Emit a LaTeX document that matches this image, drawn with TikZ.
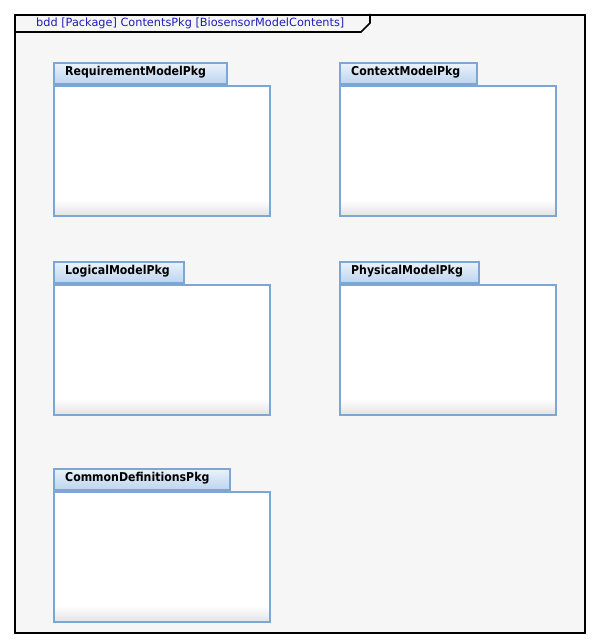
\documentclass[tikz,border=0pt]{standalone}
\usepackage{fontspec}
\setmainfont{DejaVu Sans}
\newfontfamily\pkgfont{DejaVu Sans Condensed}
\usetikzlibrary{positioning}
\definecolor{bgcol}{HTML}{F6F6F6}
\definecolor{pkgborder}{HTML}{7EA6D3}
\definecolor{tabtop}{HTML}{EAF2FB}
\definecolor{tabbot}{HTML}{BCD4EF}
\definecolor{bodybot}{HTML}{E2E2E2}
\definecolor{titleblue}{HTML}{1E1EB4}
\tikzset{
  frameline/.style={draw=black, line width=2pt},
  pkgbody/.style={draw=pkgborder, line width=2pt, minimum width=216pt, minimum height=130pt, anchor=north west, inner sep=0pt,
    path picture={
      \fill[white] (path picture bounding box.north west) rectangle (path picture bounding box.south east);
      \shade[top color=white, bottom color=bodybot]
        ([yshift=16pt]path picture bounding box.south west) rectangle (path picture bounding box.south east);
    }},
  pkgtab/.style={draw=pkgborder, line width=2pt, top color=tabtop, bottom color=tabbot, minimum height=21pt, anchor=south west, inner sep=0pt},
  pkglabel/.style={anchor=west, inner sep=0pt, font=\pkgfont\bfseries\fontsize{12.2}{14}\selectfont, text=black},
  titletext/.style={font=\fontsize{11.3}{13}\selectfont, text=titleblue, anchor=base west, inner sep=0pt}
}
\newcommand{\pkgbox}[5]{%
  \node[pkgbody] (#1) at (#2,#3) {};
  \node[pkgtab, minimum width=#4] (#1tab) at (#1.north west) {};
  \node[pkglabel] (#1lbl) at ([xshift=12pt,yshift=1pt]#1tab.west) {#5};
}
\begin{document}
\begin{tikzpicture}[x=1pt,y=-1pt]
\useasboundingbox (0,0) rectangle (596,644);
\fill[white] (0,0) rectangle (596,644);
\node[frameline, fill=bgcol, anchor=north west, minimum width=570pt, minimum height=618pt, inner sep=0pt] (frame) at (14,14) {};
\coordinate (hA) at (14,32);
\coordinate (hB) at (361,32);
\coordinate (hC) at (370,23);
\coordinate (hD) at (370,14);
\draw[line width=1.6pt, line join=miter] (hA) -- (hB) -- (hC) -- (hD);
\node[titletext] (title) at (36,27) {bdd [Package] ContentsPkg [BiosensorModelContents]};
\pkgbox{req}{53}{85}{173pt}{RequirementModelPkg}
\pkgbox{ctx}{339}{85}{137pt}{ContextModelPkg}
\pkgbox{log}{53}{284}{130pt}{LogicalModelPkg}
\pkgbox{phy}{339}{284}{139pt}{PhysicalModelPkg}
\pkgbox{com}{53}{491}{176pt}{CommonDefinitionsPkg}
\end{tikzpicture}
\end{document}
